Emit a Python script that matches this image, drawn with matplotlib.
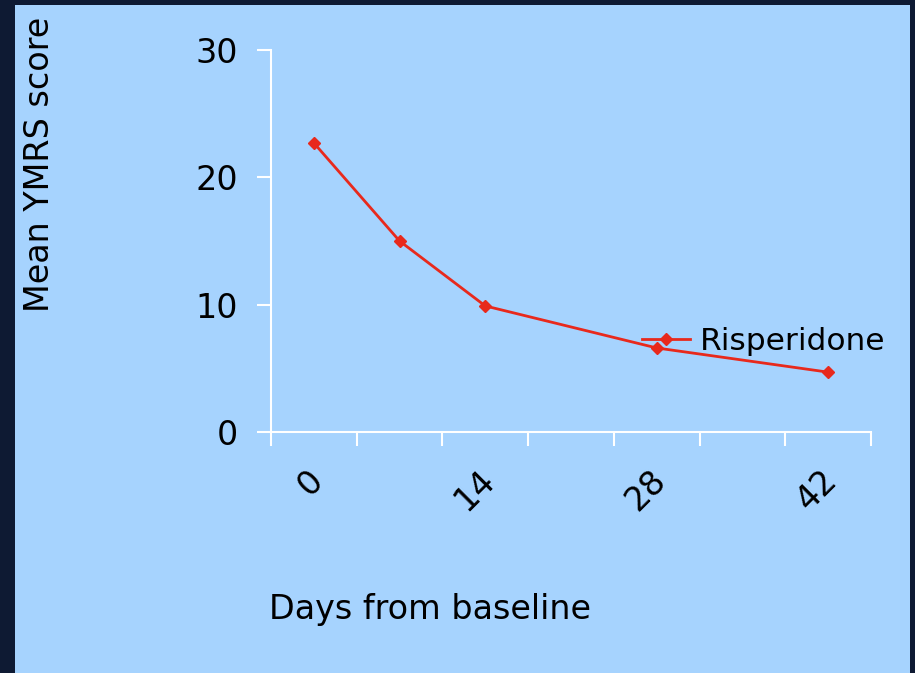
import matplotlib
matplotlib.use("Agg")
import matplotlib.pyplot as plt
from matplotlib.patches import Rectangle
from matplotlib.transforms import ScaledTranslation
import numpy as np

# Data
days = [0, 7, 14, 28, 42]
ymrs = [22.7, 15.0, 9.9, 6.6, 4.7]
series_name = "Risperidone"
x_tick_labels = ["0", "14", "28", "42"]
x_tick_days = [0, 14, 28, 42]
y_ticks = [0, 10, 20, 30]

BG = "#a6d3fe"
DARK = "#0e1a33"
RED = "#e8291c"
FS = 24

plt.rcParams['font.family'] = ['DejaVu Sans']

fig = plt.figure(figsize=(9.15, 6.73), dpi=100, facecolor=DARK)
fig.patches.append(Rectangle((15/915, 0), (910-15)/915, (673-5)/673,
                             transform=fig.transFigure, facecolor=BG,
                             edgecolor='none', zorder=-5))

ax = fig.add_axes([271/915, 1-432/673, (871-271)/915, (432-50)/673])
ax.set_facecolor('none')

pos = [d/7 for d in days]
ax.plot(pos, ymrs, color=RED, lw=2, marker='D', ms=6, mec=RED, mfc=RED,
        label=series_name, zorder=3, clip_on=False)

ax.set_xlim(-0.5, 6.5)
ax.set_ylim(0, 30)

for s in ['top', 'right']:
    ax.spines[s].set_visible(False)
for s in ['left', 'bottom']:
    ax.spines[s].set_color('white')
    ax.spines[s].set_linewidth(1.5)

ax.set_xticks(np.arange(-0.5, 7, 1.0))
ax.set_xticklabels([])
ax.set_xticks([d/7 for d in x_tick_days], minor=True)
ax.set_xticklabels(x_tick_labels, minor=True, rotation=45, ha='right',
                   va='center', rotation_mode='anchor', fontsize=FS)
ax.tick_params(axis='x', which='major', direction='out', length=10,
               width=1.5, color='white')
ax.tick_params(axis='x', which='minor', length=0, pad=31)
for lab in ax.get_xticklabels(minor=True):
    lab.set_transform(lab.get_transform() +
                      ScaledTranslation(4/100, 0, fig.dpi_scale_trans))

ax.set_yticks(y_ticks)
ax.set_yticklabels([str(v) for v in y_ticks], fontsize=FS)
ax.tick_params(axis='y', direction='out', length=10, width=1.5,
               color='white', pad=14)

fig.text(40/915, 1-164/673, "Mean YMRS score", rotation=90, fontsize=FS,
         ha='center', va='center')
fig.text(430/915, 1-610/673, "Days from baseline", fontsize=FS,
         ha='center', va='center')

leg = ax.legend(loc='center left', bbox_to_anchor=(642/915, 1-341/673),
                bbox_transform=fig.transFigure, frameon=False, fontsize=22.5,
                handlelength=1.55, handletextpad=0.3, borderpad=0,
                borderaxespad=0)

fig.savefig("out.png", dpi=100, facecolor=DARK)
